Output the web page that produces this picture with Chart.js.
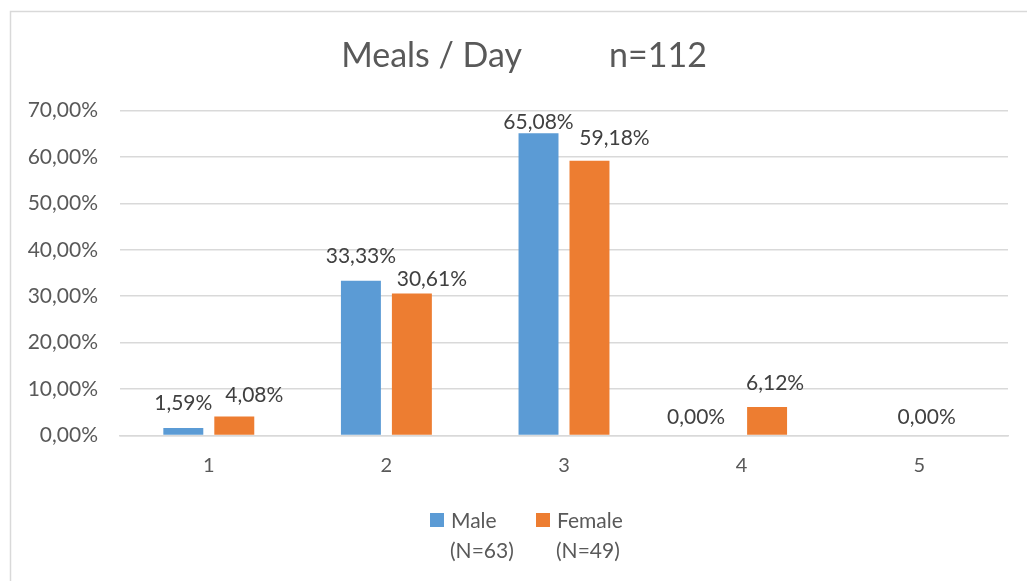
<!DOCTYPE html>
<html>
<head>
<meta charset="utf-8">
<script src="https://cdn.jsdelivr.net/npm/chart.js@4/dist/chart.umd.min.js"></script>
<style>
  html, body { margin: 0; padding: 0; background: #ffffff; }
  #wrap { width: 1027px; height: 581px; position: relative; }
</style>
</head>
<body>
<div id="wrap"><canvas id="chart" width="1027" height="581"></canvas></div>
<script>
// Meals per day, share of respondents by sex
const categories = ['1', '2', '3', '4', '5'];
const maleValues = [1.59, 33.33, 65.08, 0.00, 0.00];
const femaleValues = [4.08, 30.61, 59.18, 6.12, 0.00];
const seriesNames = ['Male', 'Female'];
const seriesCounts = ['(N=63)', '(N=49)'];
const yTicks = [0, 10, 20, 30, 40, 50, 60, 70];
const chartTitle = 'Meals / Day          n=112';

const FONT = 'Lato, "Open Sans", sans-serif';
const TEXT = '#595959';
const COLORS = ['#5B9BD5', '#ED7D31'];

const pct = v => v.toFixed(2).replace('.', ',') + '%';

// Per-label nudges [dx, dy] from the default spot above each bar; null hides the label
const labelNudge = [
  [[0, -14], [0, -14], [0, 0], [-20, -7], null],
  [[20, -10], [20, -3], [25, -12], [8, -13], [-18, -7]]
];

// White background plus the light outer frame of the chart
const frame = {
  id: 'frame',
  beforeDraw(chart) {
    const ctx = chart.ctx;
    ctx.save();
    ctx.fillStyle = '#ffffff';
    ctx.fillRect(0, 0, chart.width, chart.height);
    ctx.strokeStyle = '#D9D9D9';
    ctx.lineWidth = 1.5;
    ctx.strokeRect(10.5, 11.5, chart.width + 20, chart.height + 20);
    ctx.restore();
  }
};

// Heading centred over the whole frame
const heading = {
  id: 'heading',
  afterDraw(chart) {
    const ctx = chart.ctx;
    ctx.save();
    ctx.font = '34px ' + FONT;
    ctx.fillStyle = TEXT;
    ctx.textAlign = 'center';
    ctx.textBaseline = 'middle';
    ctx.fillText(chartTitle, 524, 56);
    ctx.restore();
  }
};

const valueLabels = {
  id: 'valueLabels',
  afterDatasetsDraw(chart) {
    const ctx = chart.ctx;
    ctx.save();
    ctx.font = '21px ' + FONT;
    ctx.fillStyle = '#404040';
    ctx.textAlign = 'center';
    ctx.textBaseline = 'middle';
    chart.data.datasets.forEach((ds, di) => {
      const meta = chart.getDatasetMeta(di);
      meta.data.forEach((bar, i) => {
        const n = labelNudge[di][i];
        if (!n) return;
        ctx.fillText(pct(ds.data[i]), bar.x + n[0], bar.y - 11 + n[1]);
      });
    });
    ctx.restore();
  }
};

// Legend with the sample size on a second line under each series name
const twoLineLegend = {
  id: 'twoLineLegend',
  afterDraw(chart) {
    const ctx = chart.ctx;
    const starts = [430, 536];
    ctx.save();
    ctx.font = '21px ' + FONT;
    ctx.textBaseline = 'middle';
    ctx.textAlign = 'left';
    seriesNames.forEach((name, i) => {
      const x = starts[i];
      ctx.fillStyle = COLORS[i];
      ctx.fillRect(x, 513, 14, 14);
      ctx.fillStyle = TEXT;
      ctx.fillText(name, x + 21, 521);
      ctx.fillText(seriesCounts[i], x + 20, 551);
    });
    ctx.restore();
  }
};

new Chart(document.getElementById('chart'), {
  type: 'bar',
  data: {
    labels: categories,
    datasets: [
      { label: seriesNames[0], data: maleValues, backgroundColor: COLORS[0] },
      { label: seriesNames[1], data: femaleValues, backgroundColor: COLORS[1] }
    ]
  },
  options: {
    responsive: false,
    animation: false,
    events: [],
    datasets: { bar: { categoryPercentage: 0.574, barPercentage: 0.784 } },
    layout: { padding: { top: 110.5, left: 10, right: 19, bottom: 103.5 } },
    plugins: {
      legend: { display: false },
      tooltip: { enabled: false },
      title: { display: false }
    },
    scales: {
      x: {
        grid: { display: false, drawTicks: false },
        border: { display: true, color: '#D9D9D9', width: 1.5 },
        ticks: { color: TEXT, font: { family: FONT, size: 20 }, padding: 18, maxRotation: 0 },
        afterFit(scale) { scale.height = 42; }
      },
      y: {
        min: 0,
        max: 70,
        afterBuildTicks(scale) { scale.ticks = yTicks.map(v => ({ value: v })); },
        grid: { color: '#D9D9D9', lineWidth: 1.5, drawTicks: false },
        border: { display: false },
        ticks: {
          color: TEXT,
          font: { family: FONT, size: 21 },
          padding: 22,
          callback: v => pct(v)
        },
        afterFit(scale) { scale.width = 110; }
      }
    }
  },
  plugins: [frame, heading, valueLabels, twoLineLegend]
});
</script>
</body>
</html>
